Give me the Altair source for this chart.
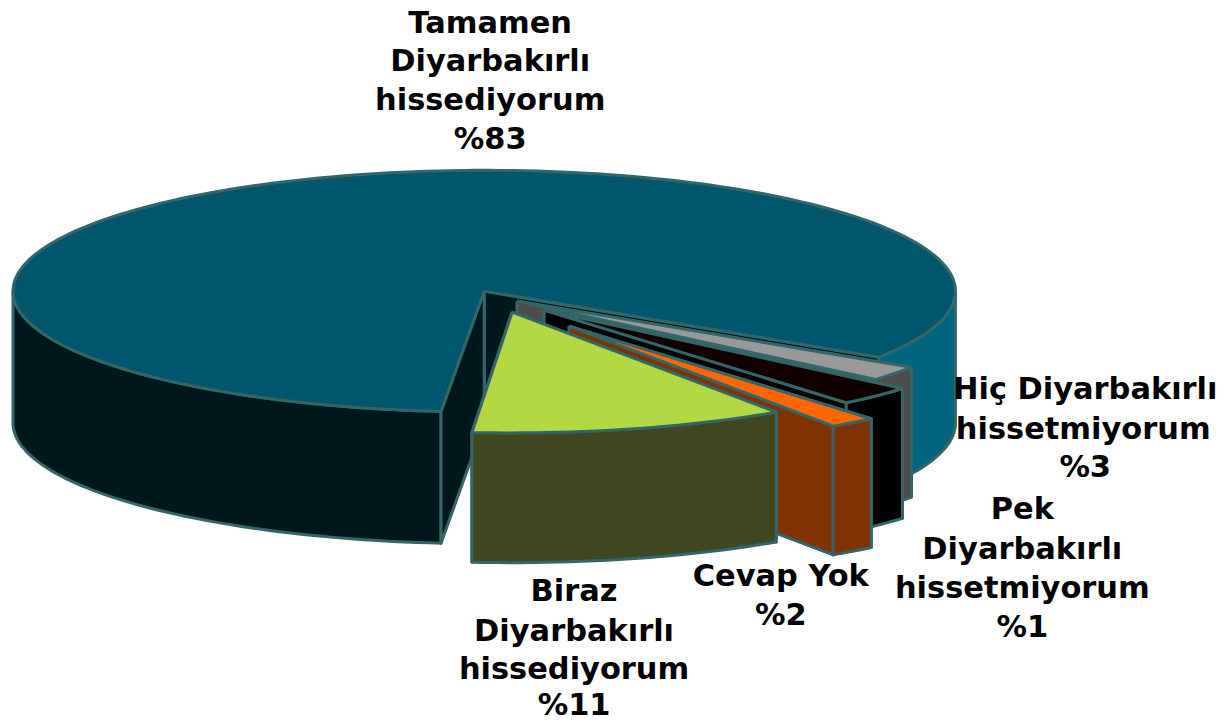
import math
import altair as alt
import pandas as pd

# Slices: name and share of the disc (%)
slice_names = ["Tamamen", "Biraz", "Cevap Yok", "Pek", "Hic"]
slice_shares = [82.76, 10.83, 1.61, 2.67, 2.03]
first_edge_deg = -4.9  # angle of the first slice edge, measured from straight down

# Centre of each slice after explosion, and pie proportions (picture units)
apex_x = [485, 513, 570, 545, 518]
apex_y = [289, 310, 324, 308, 299]
radius_x = 472
radius_y = 121
depths = [132, 130, 129, 130, 130]

top_colors = ["#00566d", "#b2d943", "#ff6600", "#120000", "#999999"]
side_colors = ["#00171c", "#40461f", "#7f3300", "#000000", "#4d4d4d"]
main_right_side = "#006680"
edge_color = "#336668"

label_lines = [
    "Tamamen", "Diyarbakırlı", "hissediyorum", "%83",
    "Biraz", "Diyarbakırlı", "hissediyorum", "%11",
    "Cevap Yok", "%2",
    "Pek", "Diyarbakırlı", "hissetmiyorum", "%1",
    "Hiç Diyarbakırlı", "hissetmiyorum", "%3",
]
label_x = [491, 491, 491, 491, 575, 575, 575, 575, 782, 782, 1024, 1024, 1024, 1024, 1087, 1085, 1087]
label_y = [21, 60, 99, 138, 590, 630, 669, 705, 575, 614, 508, 548, 587, 626, 388, 428, 466]


x_scale = alt.Scale(domain=[8, 1218], nice=False, zero=False)
y_scale = alt.Scale(domain=[8, 721], nice=False, zero=False, reverse=True)


def rim(i, a_deg):
    a = math.radians(a_deg)
    return apex_x[i] + radius_x * math.sin(a), apex_y[i] + radius_y * math.cos(a)


def arc(i, a0, a1, drop=0):
    n = max(2, int(abs(a1 - a0) / 1.5) + 1)
    pts = []
    for k in range(n + 1):
        px, py = rim(i, a0 + (a1 - a0) * k / n)
        pts.append((px, py + drop))
    return pts


def poly(points, fill):
    closed = points + [points[0]]
    df = pd.DataFrame(closed, columns=["x", "y"])
    df["o"] = range(len(df))
    return (
        alt.Chart(df)
        .mark_line(fill=fill, stroke=edge_color, strokeWidth=3, strokeJoin="round", interpolate="linear")
        .encode(
            x=alt.X("x:Q", scale=x_scale, axis=None),
            y=alt.Y("y:Q", scale=y_scale, axis=None),
            order="o:Q",
        )
    )


def wall(i, a_deg):
    ap = (apex_x[i], apex_y[i])
    r = rim(i, a_deg)
    d = depths[i]
    return [ap, r, (r[0], r[1] + d), (ap[0], ap[1] + d)]


# slice edges from cumulative shares
edges = {}
a = first_edge_deg
for i in [1, 2, 3, 4, 0]:
    span = slice_shares[i] * 3.6
    edges[i] = (a, a + span)
    a += span

layers = []
# main slice, back to front
a0, a1 = edges[0]
d0 = depths[0]
layers.append(poly(arc(0, a0, 90) + arc(0, 90, a0, d0), main_right_side))
layers.append(poly(wall(0, a0), side_colors[0]))
layers.append(poly(arc(0, 270, a1) + arc(0, a1, 270, d0), side_colors[0]))
layers.append(poly(wall(0, a1), side_colors[0]))
layers.append(poly([(apex_x[0], apex_y[0])] + arc(0, a0, a1), top_colors[0]))

# exploded slices from the back to the front
for i in [4, 3, 2, 1]:
    s0, s1 = edges[i]
    layers.append(poly(wall(i, s1), side_colors[i]))
    layers.append(poly(wall(i, s0), side_colors[i]))
    layers.append(poly(arc(i, s0, s1) + arc(i, s1, s0, depths[i]), side_colors[i]))
    layers.append(poly([(apex_x[i], apex_y[i])] + arc(i, s0, s1), top_colors[i]))

labels = pd.DataFrame({"t": label_lines, "x": label_x, "y": label_y})
text = (
    alt.Chart(labels)
    .mark_text(font="DejaVu Sans", fontWeight="bold", fontSize=30.5, color="#000000", align="center", baseline="middle")
    .encode(
        x=alt.X("x:Q", scale=x_scale, axis=None),
        y=alt.Y("y:Q", scale=y_scale, axis=None),
        text="t:N",
    )
)

chart = (
    alt.layer(*layers, text)
    .properties(width=1210, height=713, padding=0, background="#ffffff")
    .configure_view(stroke=None)
)
chart.save("out.html", embed_options={"renderer": "svg", "actions": False})
